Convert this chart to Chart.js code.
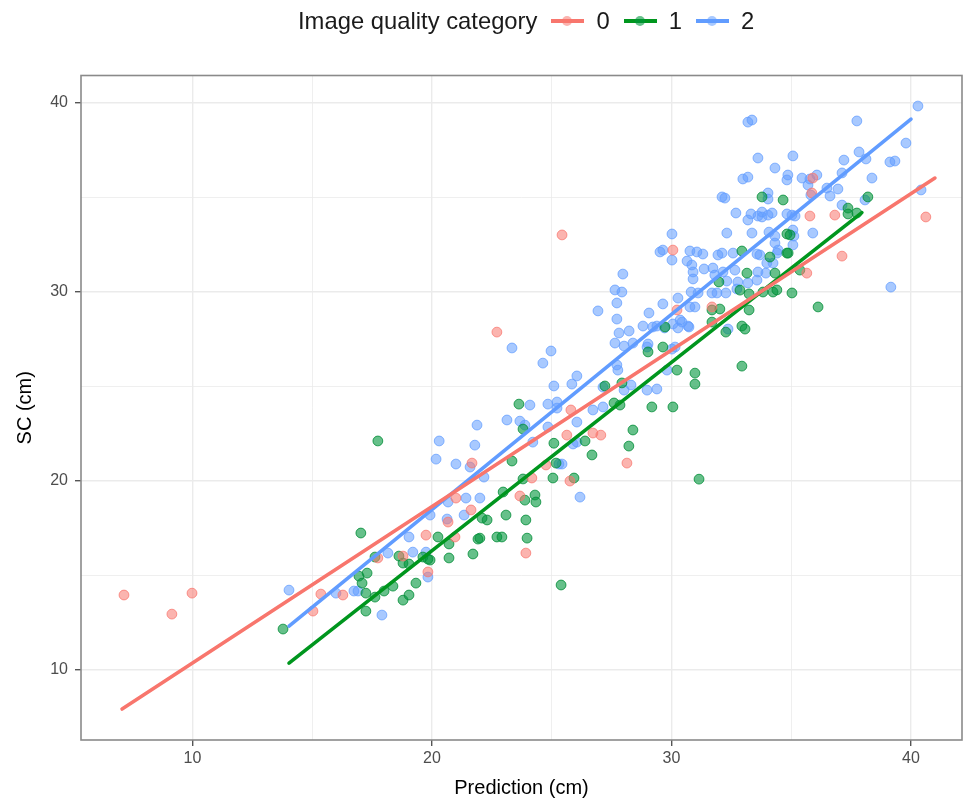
<!DOCTYPE html>
<html>
<head>
<meta charset="utf-8">
<script src="https://cdn.jsdelivr.net/npm/chart.js@4.4.1/dist/chart.umd.min.js"></script>
<style>
  body { margin: 0; background: #fff; font-family: "Liberation Sans", Arial, sans-serif; }
  #wrap { position: relative; width: 964px; height: 801px; }
  #legend { position: absolute; left: 298px; top: 7px; display: flex; align-items: center; font-size: 23.8px; color: #1a1a1a; }
  .key { position: relative; width: 33px; height: 28px; margin: 0 12px 0 14px; }
  .key .ln { position: absolute; left: 0; right: 0; top: 12px; height: 4px; }
  .key .pt { position: absolute; left: 11px; top: 9px; width: 10px; height: 10px; border-radius: 50%; }
</style>
</head>
<body>
<div id="wrap">
  <canvas id="chart" width="964" height="801"></canvas>
  <div id="legend"></div>
</div>
<script>
const categories = ['0', '1', '2'];
const lineColors = ['#F8766D', '#00961E', '#619CFF'];
const pointFill = ['rgba(248,118,109,0.55)', 'rgba(0,150,60,0.6)', 'rgba(97,156,255,0.55)'];
const pointEdge = ['rgba(248,118,109,0.75)', 'rgba(0,140,55,0.8)', 'rgba(97,156,255,0.75)'];
const xTicks = [10, 20, 30, 40];
const yTicks = [10, 20, 30, 40];

// [prediction, SC] per image quality category
const cat0 = [[7.14,13.97],[9.14,12.96],[9.98,14.07],[15.03,13.12],[15.36,14.02],[16.28,13.97],[21.67,20.95],[21.0,19.1],
  [21.63,18.47],[20.67,17.83],[19.75,17.14],[18.79,16.03],[17.74,15.93],[19.83,15.19],[20.96,17.04],[22.71,27.88],
  [23.67,19.21],[24.17,20.16],[25.8,23.76],[25.63,22.43],[26.72,22.54],[27.05,22.43],[28.14,20.95],[25.76,20.0],
  [23.92,16.19],[24.76,20.85],[25.43,33.02],[30.06,32.22],[30.23,29.05],[35.9,36.03],[35.86,35.24],[35.78,34.02],
  [36.82,34.07],[40.62,33.97],[37.12,31.9],[35.65,31.0],[31.69,29.21]];

const cat1 = [[13.78,12.17],[17.74,22.12],[17.03,17.25],[17.62,15.98],[17.29,15.13],[16.95,14.97],[17.08,14.6],[17.24,14.07],
  [17.62,13.86],[17.24,13.12],[18.0,14.18],[18.37,14.44],[18.79,13.7],[19.04,13.97],[19.33,14.6],[18.62,16.03],
  [18.79,15.66],[19.04,15.61],[19.62,15.98],[19.83,15.87],[20.25,17.04],[20.71,16.67],[20.71,15.93],[21.71,16.14],
  [21.92,16.93],[23.63,24.07],[23.8,22.75],[23.34,21.06],[25.09,22.0],[26.39,22.12],[26.68,21.38],[25.18,20.95],
  [25.05,20.16],[25.93,20.16],[27.22,25.03],[27.85,24.02],[28.39,22.7],[28.22,21.85],[29.18,23.92],[29.02,26.83],
  [24.3,19.26],[23.88,18.99],[24.34,18.89],[23.92,17.94],[23.09,18.2],[22.97,19.42],[22.3,17.94],[22.09,18.04],
  [22.0,16.98],[22.71,17.04],[22.92,17.04],[23.97,16.98],[23.8,20.11],[19.92,15.82],[25.39,14.5],[27.6,24.13],
  [32.94,32.17],[33.15,31.0],[32.86,30.1],[32.94,28.2],[33.07,28.04],[32.27,27.88],[32.94,26.08],[30.98,25.71],
  [30.98,25.13],[30.23,25.87],[30.06,23.92],[29.64,27.09],[29.73,28.15],[27.93,25.19],[31.98,30.53],[31.69,29.05],
  [32.02,29.1],[34.32,31.0],[34.87,32.06],[33.82,30.0],[34.24,30.0],[35.03,29.95],[36.12,29.21],[33.24,29.9],
  [33.24,29.05],[31.69,28.41],[33.78,35.03],[34.66,34.87],[38.2,35.03],[37.37,34.44],[37.37,34.13],[37.74,34.18],
  [34.82,33.07],[34.95,33.02],[34.82,32.06],[34.11,31.85],[34.4,30.11],[35.36,31.16],[31.15,20.1]];

const cat2 = [[14.03,14.23],[15.99,14.07],[16.74,14.18],[16.91,14.18],[17.91,12.91],[18.16,16.19],[19.2,16.24],[19.75,16.24],
  [19.83,14.92],[19.04,17.04],[19.92,18.2],[21.34,18.2],[20.63,17.99],[20.67,18.89],[21.42,19.1],[22.0,19.1],
  [21.0,20.9],[21.59,20.74],[20.17,21.16],[20.3,22.12],[21.79,21.9],[21.88,22.96],[22.17,20.21],[26.18,19.15],
  [25.3,20.9],[25.43,20.9],[25.89,21.96],[26.05,22.06],[24.21,22.06],[24.84,22.86],[23.88,22.96],[23.67,23.17],
  [23.13,23.23],[26.05,23.12],[24.09,24.02],[24.84,24.07],[25.22,24.18],[25.22,23.86],[26.72,23.76],[27.14,23.92],
  [25.09,25.03],[25.84,25.13],[26.05,25.56],[27.14,24.97],[28.02,24.81],[28.31,25.08],[28.98,24.81],[29.39,24.87],
  [27.72,26.14],[27.76,25.87],[23.34,27.04],[24.97,26.88],[24.63,26.24],[26.93,29.0],[27.72,29.42],[27.72,28.57],
  [29.06,28.89],[28.81,28.2],[27.81,27.83],[28.23,27.94],[27.64,27.3],[28.02,27.14],[28.39,27.3],[29.02,27.25],
  [27.97,30.95],[27.64,30.11],[27.93,30.0],[29.64,29.37],[30.27,29.68],[30.77,29.21],[30.98,29.21],[29.39,28.2],
  [30.36,28.52],[30.69,28.2],[30.27,28.1],[30.15,27.09],[29.81,25.87],[30.02,33.07],[29.64,32.22],[30.02,31.69],
  [30.77,32.17],[31.06,32.12],[31.31,32.01],[30.65,31.64],[30.85,31.43],[30.9,31.06],[31.36,31.22],[31.73,31.27],
  [31.94,31.96],[32.11,32.06],[32.57,32.06],[31.81,30.9],[32.15,31.06],[32.65,31.16],[30.9,30.69],[32.31,30.58],
  [32.77,30.53],[33.19,30.48],[31.69,29.95],[31.9,29.95],[32.27,29.95],[32.69,34.18],[33.32,34.13],[33.19,33.81],
  [33.61,34.02],[32.31,33.12],[33.36,33.12],[33.19,38.99],[33.36,39.1],[33.61,37.09],[35.07,37.2],[34.32,36.56],
  [34.86,36.19],[34.82,35.93],[32.98,35.98],[33.19,36.08],[35.45,36.03],[35.7,35.66],[32.11,35.03],[32.23,34.97],
  [34.03,35.24],[34.03,34.92],[33.78,34.23],[33.78,33.97],[34.03,34.07],[34.2,34.18],[34.82,34.13],[35.03,34.07],
  [35.16,34.02],[34.07,33.17],[35.07,33.28],[35.11,32.96],[34.32,32.96],[34.32,32.59],[35.07,32.49],[33.57,32.01],
  [33.69,31.96],[34.45,32.22],[40.29,39.84],[37.74,39.05],[39.79,37.88],[37.83,37.41],[37.2,36.98],[38.12,37.04],
  [39.12,36.88],[39.33,36.93],[36.07,36.19],[37.12,36.3],[38.37,36.03],[35.82,35.13],[36.62,35.08],[36.95,35.45],
  [36.49,35.5],[37.12,34.6],[38.08,34.87],[40.42,35.4],[35.9,33.12],[39.16,30.26],[35.78,35.98],[33.98,31.53],
  [33.61,31.06],[33.94,31.0],[33.57,30.63],[34.24,31.53],[34.41,32.06],[29.52,32.12],[30.82,30.0],[31.11,29.95],
  [32.73,30.16],[29.22,28.15],[30.06,28.31],[30.44,28.41],[30.73,28.15],[28.98,27.09],[30.02,26.98],[32.36,28.04],
  [29.71,28.1]];

// fitted regression lines, start and end
const fit0 = [[7.06,7.94],[41.0,36.03]];
const fit1 = [[14.03,10.37],[37.95,34.2]];
const fit2 = [[14.03,12.33],[40.0,39.15]];

const groups = [cat0, cat1, cat2];
const fits = [fit0, fit1, fit2];

const toXY = arr => arr.map(p => ({ x: p[0], y: p[1] }));

const datasets = [];
groups.forEach((g, i) => {
    datasets.push({
        label: categories[i] + ' points',
        data: toXY(g),
        showLine: false,
        pointRadius: 4.9,
        pointBackgroundColor: pointFill[i],
        pointBorderColor: pointEdge[i],
        pointBorderWidth: 1,
        order: 2
    });
});
fits.forEach((f, i) => {
    datasets.push({
        label: categories[i],
        data: toXY(f),
        showLine: true,
        borderColor: lineColors[i],
        borderWidth: 3.6,
        pointRadius: 0,
        borderCapStyle: 'round',
        order: 1
    });
});

const isMajor = v => v % 10 === 0;

const panelBorder = {
    id: 'panelBorder',
    afterDraw(chart) {
        const a = chart.chartArea;
        const ctx = chart.ctx;
        ctx.save();
        ctx.strokeStyle = '#8a8a8a';
        ctx.lineWidth = 1.6;
        ctx.strokeRect(a.left, a.top, a.right - a.left, a.bottom - a.top);
        ctx.restore();
    }
};

function axisCommon(ticks) {
    return {
        grid: {
            color: '#ebebeb',
            lineWidth: c => (c.tick && isMajor(c.tick.value)) ? 1.4 : 0.8,
            tickColor: c => (c.tick && isMajor(c.tick.value)) ? '#555' : 'rgba(0,0,0,0)',
            tickLength: 6,
            tickWidth: 1.4
        },
        border: { display: false },
        ticks: {
            color: '#4d4d4d',
            font: { family: 'Liberation Sans', size: 16 },
            autoSkip: false,
            maxRotation: 0,
            callback: v => ticks.includes(v) ? String(v) : ''
        }
    };
}

const xAxis = axisCommon(xTicks);
Object.assign(xAxis, {
    type: 'linear', min: 5.345, max: 42.13,
    afterBuildTicks: s => { s.ticks = [10, 15, 20, 25, 30, 35, 40].map(v => ({ value: v })); },
    afterFit: s => { s.height = 61; s.paddingLeft = 0; s.paddingRight = 0; },
    title: { display: true, text: 'Prediction (cm)', color: '#000', font: { family: 'Liberation Sans', size: 20 }, padding: { top: 0, bottom: 1 } }
});
xAxis.ticks.padding = 3;

const yAxis = axisCommon(yTicks);
Object.assign(yAxis, {
    type: 'linear', min: 6.3, max: 41.455,
    afterBuildTicks: s => { s.ticks = [10, 15, 20, 25, 30, 35, 40].map(v => ({ value: v })); },
    afterFit: s => { s.width = 81; s.paddingTop = 0; s.paddingBottom = 0; },
    title: { display: true, text: 'SC (cm)', color: '#000', font: { family: 'Liberation Sans', size: 20 }, padding: { top: 13, bottom: 0 } }
});
yAxis.ticks.padding = 7;

new Chart(document.getElementById('chart'), {
    type: 'scatter',
    data: { datasets },
    options: {
        responsive: false,
        animation: false,
        devicePixelRatio: 1,
        layout: { autoPadding: false, padding: { top: 75.5, right: 2, left: 0, bottom: 0 } },
        plugins: { legend: { display: false }, tooltip: { enabled: false } },
        scales: { x: xAxis, y: yAxis }
    },
    plugins: [panelBorder]
});

// legend strip on top
const legend = document.getElementById('legend');
legend.innerHTML = '<span>Image quality category</span>' + categories.map((c, i) =>
    `<span class="key"><span class="ln" style="background:${lineColors[i]}"></span>` +
    `<span class="pt" style="background:${pointFill[i]}"></span></span><span>${c}</span>`).join('');
</script>
</body>
</html>
